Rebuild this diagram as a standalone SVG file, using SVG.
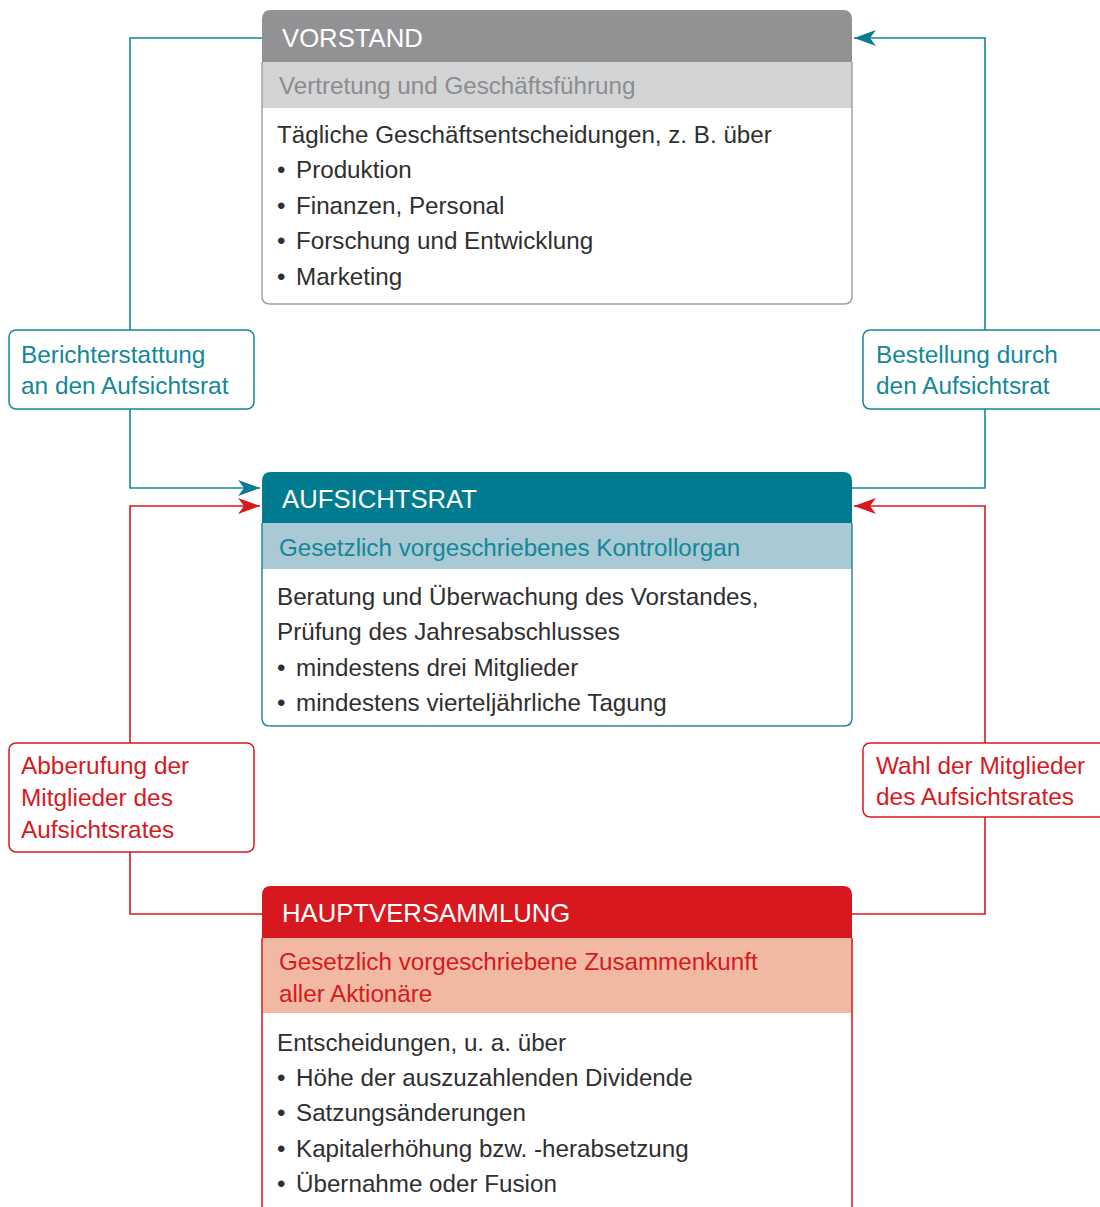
<svg xmlns="http://www.w3.org/2000/svg" width="1100" height="1207" viewBox="0 0 1100 1207">
<style>
text{font-family:"Liberation Sans",Arial,sans-serif;}
.hd{font-size:25.7px;fill:#ffffff;}
.sub{font-size:24.2px;}
.body{font-size:24.2px;fill:#2f2f2f;}
.lbl{font-size:24.4px;}
.teal{fill:#13879a;}
.red{fill:#d7191f;}
.lt{fill:none;stroke:#13879a;stroke-width:1.6;}
.lr{fill:none;stroke:#d7191f;stroke-width:1.6;}
</style>
<defs>
<marker id="at" markerWidth="24" markerHeight="18" refX="22" refY="9" orient="auto" markerUnits="userSpaceOnUse">
<path d="M0,1 L22,9 L0,17 L6,9 Z" fill="#0a7c8f"/>
</marker>
<marker id="ar" markerWidth="24" markerHeight="18" refX="22" refY="9" orient="auto" markerUnits="userSpaceOnUse">
<path d="M0,1 L22,9 L0,17 L6,9 Z" fill="#d7191f"/>
</marker>
</defs>
<rect width="1100" height="1207" fill="#ffffff"/>

<g id="connectors">
<path class="lt" d="M262,38 H130 V488 H260" marker-end="url(#at)"/>
<path class="lt" d="M852,488 H985 V38 H854" marker-end="url(#at)"/>
<path class="lr" d="M262,914 H130 V506 H260" marker-end="url(#ar)"/>
<path class="lr" d="M852,914 H985 V506 H854" marker-end="url(#ar)"/>
</g>

<g id="vorstand">
<path d="M262,19 Q262,10 271,10 H843 Q852,10 852,19 V62 H262 Z" fill="#929295"/>
<rect x="262" y="62" width="590" height="46" fill="#d3d4d6"/>
<path d="M262,62 V296 Q262,304 270,304 H844 Q852,304 852,296 V62" fill="none" stroke="#a3a3a6" stroke-width="1.5"/>
<text class="hd" x="282" y="47">VORSTAND</text>
<text class="sub" x="279" y="94" fill="#8c8c8f">Vertretung und Geschäftsführung</text>
<text class="body" x="277" y="143">Tägliche Geschäftsentscheidungen, z. B. über</text>
<text class="body" x="277" y="178">•<tspan x="296">Produktion</tspan></text>
<text class="body" x="277" y="214">•<tspan x="296">Finanzen, Personal</tspan></text>
<text class="body" x="277" y="249">•<tspan x="296">Forschung und Entwicklung</tspan></text>
<text class="body" x="277" y="285">•<tspan x="296">Marketing</tspan></text>
</g>

<g id="aufsichtsrat">
<path d="M262,481 Q262,472 271,472 H843 Q852,472 852,481 V523 H262 Z" fill="#007b8f"/>
<rect x="262" y="523" width="590" height="46" fill="#a9c9d4"/>
<path d="M262,523 V718 Q262,726 270,726 H844 Q852,726 852,718 V523" fill="none" stroke="#2a8c9c" stroke-width="1.5"/>
<text class="hd" x="282" y="508">AUFSICHTSRAT</text>
<text class="sub teal" x="279" y="556">Gesetzlich vorgeschriebenes Kontrollorgan</text>
<text class="body" x="277" y="605">Beratung und Überwachung des Vorstandes,</text>
<text class="body" x="277" y="640">Prüfung des Jahresabschlusses</text>
<text class="body" x="277" y="676">•<tspan x="296">mindestens drei Mitglieder</tspan></text>
<text class="body" x="277" y="711">•<tspan x="296">mindestens vierteljährliche Tagung</tspan></text>
</g>

<g id="hauptversammlung">
<path d="M262,895 Q262,886 271,886 H843 Q852,886 852,895 V938 H262 Z" fill="#d7181f"/>
<rect x="262" y="938" width="590" height="75" fill="#f2b9a2"/>
<path d="M262,938 V1215 M852,938 V1215" fill="none" stroke="#d7191f" stroke-width="1.5"/>
<text class="hd" x="282" y="922">HAUPTVERSAMMLUNG</text>
<text class="sub red" x="279" y="970">Gesetzlich vorgeschriebene Zusammenkunft</text>
<text class="sub red" x="279" y="1002">aller Aktionäre</text>
<text class="body" x="277" y="1051">Entscheidungen, u. a. über</text>
<text class="body" x="277" y="1086">•<tspan x="296">Höhe der auszuzahlenden Dividende</tspan></text>
<text class="body" x="277" y="1121">•<tspan x="296">Satzungsänderungen</tspan></text>
<text class="body" x="277" y="1157">•<tspan x="296">Kapitalerhöhung bzw. -herabsetzung</tspan></text>
<text class="body" x="277" y="1192">•<tspan x="296">Übernahme oder Fusion</tspan></text>
</g>

<g id="label-berichterstattung">
<rect x="9" y="330" width="245" height="79" rx="7" fill="#ffffff" stroke="#13879a" stroke-width="1.5"/>
<text class="lbl teal" x="21" y="363">Berichterstattung</text>
<text class="lbl teal" x="21" y="394">an den Aufsichtsrat</text>
</g>

<g id="label-bestellung">
<rect x="863" y="330" width="260" height="79" rx="7" fill="#ffffff" stroke="#13879a" stroke-width="1.5"/>
<text class="lbl teal" x="876" y="363">Bestellung durch</text>
<text class="lbl teal" x="876" y="394">den Aufsichtsrat</text>
</g>

<g id="label-abberufung">
<rect x="9" y="743" width="245" height="109" rx="7" fill="#ffffff" stroke="#d7191f" stroke-width="1.5"/>
<text class="lbl red" x="21" y="774">Abberufung der</text>
<text class="lbl red" x="21" y="806">Mitglieder des</text>
<text class="lbl red" x="21" y="838">Aufsichtsrates</text>
</g>

<g id="label-wahl">
<rect x="863" y="743" width="260" height="74" rx="7" fill="#ffffff" stroke="#d7191f" stroke-width="1.5"/>
<text class="lbl red" x="876" y="774">Wahl der Mitglieder</text>
<text class="lbl red" x="876" y="805">des Aufsichtsrates</text>
</g>
</svg>
